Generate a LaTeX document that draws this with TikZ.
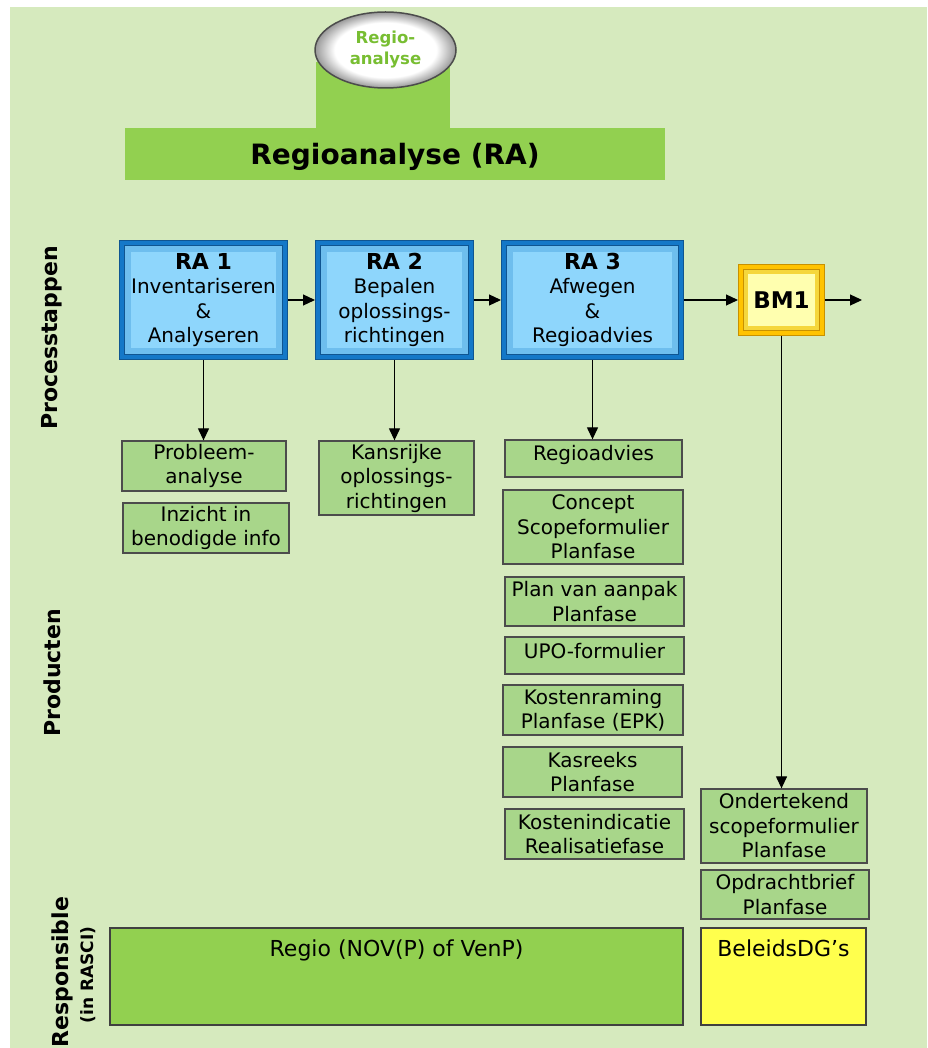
\documentclass[tikz,border=0pt]{standalone}
\usepackage{fontspec}
\setmainfont{DejaVu Sans}
\usetikzlibrary{arrows.meta,shapes.geometric,positioning}

\definecolor{bggreen}{RGB}{214,234,190}
\definecolor{bargreen}{RGB}{146,208,80}
\definecolor{prodgreen}{RGB}{168,214,138}
\definecolor{rafill}{RGB}{142,214,252}
\definecolor{raedge}{RGB}{20,120,200}
\definecolor{radark}{RGB}{15,85,145}
\definecolor{rabevel}{RGB}{110,190,238}
\definecolor{bmfill}{RGB}{255,255,175}
\definecolor{bmedge}{RGB}{255,195,0}
\definecolor{bmdark}{RGB}{200,145,0}
\definecolor{bmbevel}{RGB}{245,215,60}
\definecolor{dgyellow}{RGB}{255,255,77}
\definecolor{logogreen}{RGB}{120,190,50}

\pgfdeclareradialshading{logoshade}{\pgfpoint{0bp}{0bp}}{color(0bp)=(white); color(18bp)=(white); color(25bp)=(black!40); color(50bp)=(black!40)}

\tikzset{
  rabox/.style={draw=radark, double=raedge, double distance=4pt, line width=1pt,
    fill=rafill, outer sep=3pt, align=center, inner sep=0pt,
    font=\fontsize{20}{24.5}\selectfont,
    path picture={\draw[rabevel, line width=18pt] (path picture bounding box.south west)
      rectangle (path picture bounding box.north east);}},
  bmbox/.style={rabox, draw=bmdark, double=bmedge, fill=bmfill,
    path picture={\draw[bmbevel, line width=14pt] (path picture bounding box.south west)
      rectangle (path picture bounding box.north east);}},
  product/.style={draw=black!70, line width=1.3pt, fill=prodgreen, align=center,
    inner sep=0pt, font=\fontsize{20}{24.5}\selectfont},
  owner/.style={draw=black!75, line width=1.3pt},
  ownertext/.style={anchor=north, yshift=-9pt, font=\fontsize{22}{26}\selectfont},
  sidelabel/.style={rotate=90, font=\bfseries\fontsize{22}{24}\selectfont},
  flow/.style={-{Triangle[length=12pt,width=11pt]}, line width=1.2pt}
}

\begin{document}
\begin{tikzpicture}[x=1pt,y=-1pt]
  \useasboundingbox (0,0) rectangle (927,1048);
  \fill[bggreen] (10,7) rectangle (927,1048);

  % header
  \fill[bargreen] (316,62) rectangle (450,129);
  \node[fill=bargreen, minimum width=540pt, minimum height=52pt, text height=23pt, text depth=1pt,
    font=\bfseries\fontsize{28}{30}\selectfont] (bar) at (395,154) {Regioanalyse (RA)};
  \node[ellipse, minimum width=141pt, minimum height=76pt, draw=black!70, line width=1.5pt,
    shading=logoshade, align=center, inner sep=0pt, text=logogreen,
    font=\bfseries\fontsize{16.5}{21}\selectfont] (logo) at (385.5,50) {Regio-\\analyse};

  % side labels
  \node[sidelabel] (lbproc) at (52,338) {Processtappen};
  \node[sidelabel] (lbprod) at (52,673) {Producten};
  \node[sidelabel] (lbresp) at (62,972) {Responsible};
  \node[rotate=90, font=\bfseries\fontsize{17}{17}\selectfont] (lbrasci) at (88,975) {(in RASCI)};

  % process steps
  \node[rabox, minimum width=163pt, minimum height=114pt] (ra1) at (203.5,300)
    {{\bfseries\fontsize{22}{24.5}\selectfont RA 1}\\Inventariseren\\\&\\Analyseren};
  \node[rabox, minimum width=153pt, minimum height=114pt] (ra2) at (394.5,300)
    {{\bfseries\fontsize{22}{24.5}\selectfont RA 2}\\Bepalen\\oplossings-\\richtingen};
  \node[rabox, minimum width=177pt, minimum height=114pt] (ra3) at (592.5,300)
    {{\bfseries\fontsize{22}{24.5}\selectfont RA 3}\\Afwegen\\\&\\Regioadvies};
  \node[bmbox, minimum width=81pt, minimum height=66pt, font=\bfseries\fontsize{23}{25}\selectfont]
    (bm1) at (781.5,300) {BM1};
  \coordinate (exit) at (862,300);

  % products
  \node[product, minimum width=164pt, minimum height=50pt] (probleem) at (204,466) {Probleem-\\analyse};
  \node[product, minimum width=166pt, minimum height=50pt] (inzicht) at (206,528) {Inzicht in\\benodigde info};
  \node[product, minimum width=155pt, minimum height=74pt] (kansrijk) at (396.5,478) {Kansrijke\\oplossings-\\richtingen};
  \node[product, minimum width=177pt, minimum height=37pt, text depth=12pt] (advies) at (593.5,458.5) {Regioadvies};
  \node[product, minimum width=180pt, minimum height=74pt] (concept) at (593,527) {Concept\\Scopeformulier\\Planfase};
  \node[product, minimum width=179pt, minimum height=49pt] (aanpak) at (594.5,601.5) {Plan van aanpak\\Planfase};
  \node[product, minimum width=179pt, minimum height=37pt, text depth=10pt] (upo) at (594.5,655.5) {UPO-formulier};
  \node[product, minimum width=180pt, minimum height=50pt] (raming) at (593,710) {Kostenraming\\Planfase (EPK)};
  \node[product, minimum width=179pt, minimum height=50pt] (kasreeks) at (592.5,772) {Kasreeks\\Planfase};
  \node[product, minimum width=179pt, minimum height=50pt] (indicatie) at (594.5,834) {Kostenindicatie\\Realisatiefase};
  \node[product, minimum width=166pt, minimum height=74pt] (onder) at (784,826) {Ondertekend\\scopeformulier\\Planfase};
  \node[product, minimum width=168pt, minimum height=49pt] (opdracht) at (785,894.5) {Opdrachtbrief\\Planfase};

  % responsible
  \node[owner, fill=bargreen, minimum width=573pt, minimum height=97pt,
    label={[ownertext]north:Regio (NOV(P) of VenP)}] (regio) at (396.5,976.5) {};
  \node[owner, fill=dgyellow, minimum width=165pt, minimum height=97pt,
    label={[ownertext]north:BeleidsDG’s}] (beleid) at (783.5,976.5) {};

  % connectors
  \draw[flow] (ra1.east) -- (ra2.west);
  \draw[flow] (ra2.east) -- (ra3.west);
  \draw[flow] (ra3.east) -- (bm1.west);
  \draw[flow] (bm1.east) -- (exit);
  \draw[flow] (ra1.south) -- (ra1.south |- probleem.north);
  \draw[flow] (ra2.south) -- (ra2.south |- kansrijk.north);
  \draw[flow] (ra3.south) -- (ra3.south |- advies.north);
  \draw[flow] (bm1.south) -- (bm1.south |- onder.north);
\end{tikzpicture}
\end{document}
